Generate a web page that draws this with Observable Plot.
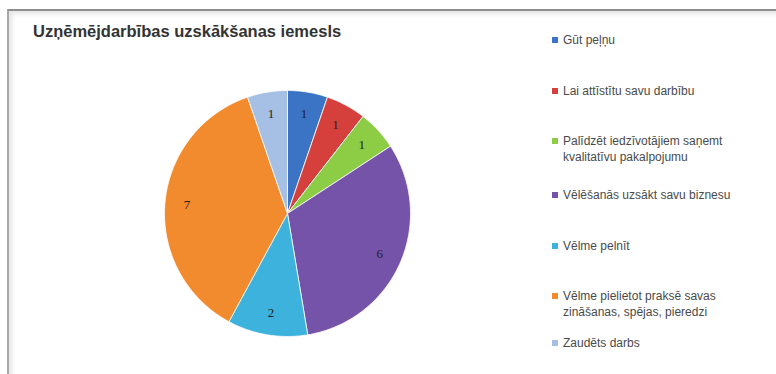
<!DOCTYPE html>
<html><head><meta charset="utf-8">
<script src="https://cdn.jsdelivr.net/npm/d3@7"></script>
<script src="https://cdn.jsdelivr.net/npm/@observablehq/plot@0.6"></script>
<style>
body{margin:0;background:#fff;}
#wrap{position:relative;width:776px;height:374px;overflow:hidden;background:#fff}
#frame{position:absolute;left:7px;top:9px;width:800px;height:400px;border-top:2px solid #8e8e8e;border-left:2px solid #a8a8a8;box-shadow:inset 3px 3px 4px #e6e6e6;}
#chart{position:absolute;left:0;top:0}
#title{position:absolute;left:33px;top:22px;font:bold 16.5px "Liberation Sans",sans-serif;color:#333;white-space:nowrap}
.lg{position:absolute;left:552px;font:12px "Liberation Sans",sans-serif;color:#4a4a4a;white-space:nowrap;line-height:16px}
.sw{position:absolute;left:0;top:5px;width:6px;height:6px}
.tx{margin-left:11px}
</style></head><body><div id="wrap"><div id="frame"></div><div id="chart"></div><div id="title"></div></div>
<script>
const titleText = "Uzņēmējdarbības uzskākšanas iemesls";
const categories = ["Gūt peļņu","Lai attīstītu savu darbību","Palīdzēt iedzīvotājiem saņemt kvalitatīvu pakalpojumu","Vēlēšanās uzsākt savu biznesu","Vēlme pelnīt","Vēlme pielietot praksē savas zināšanas, spējas, pieredzi","Zaudēts darbs"];
const values = [1,1,1,6,2,7,1];
const colors = ["#3b74c4","#d6403c","#8ccd45","#7553a8","#3db2dd","#f28a2e","#a6bfe4"];
const legendLines = [["Gūt peļņu"],["Lai attīstītu savu darbību"],["Palīdzēt iedzīvotājiem saņemt","kvalitatīvu pakalpojumu"],["Vēlēšanās uzsākt savu biznesu"],["Vēlme pelnīt"],["Vēlme pielietot praksē savas","zināšanas, spējas, pieredzi"],["Zaudēts darbs"]];
const legendTop = [32, 83, 133, 187, 238, 288, 335];

const pieData = d3.pie().sort(null).value(d => d)(values);
// outline points for each slice (angle clockwise from north)
const pts = [];
pieData.forEach((p, i) => {
  const cat = categories[i];
  pts.push({cat, x: 0, y: 0});
  const n = Math.max(2, Math.ceil((p.endAngle - p.startAngle) / 0.01));
  for (let k = 0; k <= n; k++) {
    const a = p.startAngle + (p.endAngle - p.startAngle) * k / n;
    pts.push({cat, x: Math.sin(a), y: Math.cos(a)});
  }
  pts.push({cat, x: 0, y: 0});
});
const labels = pieData.map((p, i) => {
  const a = (p.startAngle + p.endAngle) / 2;
  return {cat: categories[i], v: values[i], x: 0.82 * Math.sin(a), y: 0.82 * Math.cos(a)};
});

const chart = Plot.plot({
  width: 776, height: 374, margin: 0,
  style: {background: "transparent", overflow: "visible"},
  x: {domain: [-1, 1], range: [164, 410], axis: null},
  y: {domain: [-1, 1], range: [336, 90], axis: null},
  color: {domain: categories, range: colors},
  marks: [
    Plot.line(pts, {x: "x", y: "y", z: "cat", fill: "cat", stroke: "#ffffff", strokeWidth: 1, strokeOpacity: 0.8, curve: "linear"}),
    Plot.text(labels, {x: "x", y: "y", text: d => String(d.v), fill: "#222", fontSize: 13, fontFamily: "Liberation Serif, serif"})
  ]
});
document.getElementById("chart").appendChild(chart);
document.getElementById("title").textContent = titleText;

const wrap = document.getElementById("wrap");
legendLines.forEach((lines, i) => {
  const d = document.createElement("div");
  d.className = "lg";
  d.style.top = legendTop[i] + "px";
  const sw = document.createElement("div");
  sw.className = "sw";
  sw.style.background = colors[i];
  d.appendChild(sw);
  lines.forEach(t => {
    const s = document.createElement("div");
    s.className = "tx";
    s.textContent = t;
    d.appendChild(s);
  });
  wrap.appendChild(d);
});
</script></body></html>
